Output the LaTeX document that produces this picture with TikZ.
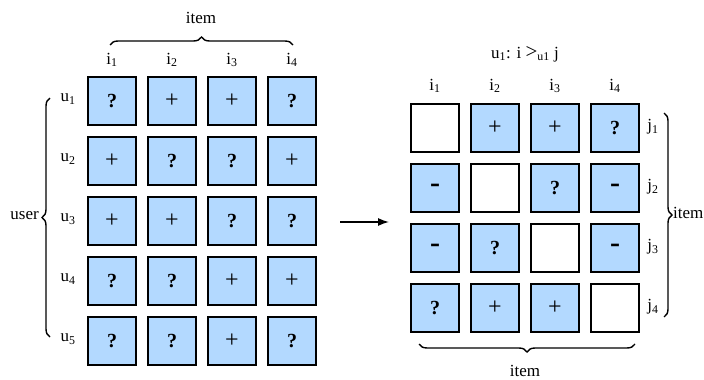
\documentclass[tikz,border=0pt]{standalone}
\usepackage{fontspec}
\setmainfont{Liberation Serif}
\usetikzlibrary{arrows.meta,decorations.pathreplacing}
\definecolor{cellblue}{RGB}{179,217,255}
\newcommand{\qm}{\textbf{?}}
\newcommand{\pl}{{\fontsize{24}{24}\selectfont +}}
\newcommand{\mn}{{\fontsize{30}{30}\selectfont\textbf{-}}}
\begin{document}
\begin{tikzpicture}[x=1pt,y=-1pt,
  cell/.style={draw=black,line width=1.6pt,fill=cellblue,minimum size=48pt,inner sep=0pt,font=\fontsize{20}{22}\selectfont},
  blank/.style={cell,fill=white},
  lbl/.style={inner sep=0pt,font=\fontsize{17}{19}\selectfont},
  bracestyle/.style={draw,line width=1.4pt,decorate,decoration={brace,amplitude=8pt}}]
\useasboundingbox (0,0) rectangle (704,380);
% left grid
\foreach \r/\a/\b/\c/\d in {1/\qm/\pl/\pl/\qm,2/\pl/\qm/\qm/\pl,3/\pl/\pl/\qm/\qm,4/\qm/\qm/\pl/\pl,5/\qm/\qm/\pl/\qm}{
  \foreach \col/\t in {1/\a,2/\b,3/\c,4/\d}{
    \node[cell] (L\r\col) at ({112+60*(\col-1)},{101+60*(\r-1)}) {\t};
  }
}
% left labels
\foreach \col in {1,...,4}{
  \node[lbl] (li\col) at ({112+60*(\col-1)},60) {i\textsubscript{\col}};
}
\foreach \r in {1,...,5}{
  \node[lbl] (lu\r) at (68,{99+60*(\r-1)}) {u\textsubscript{\r}};
}
\node[lbl] (itemtop) at (201,18) {item};
\node[lbl,anchor=east] (user) at (39,216) {user};
\draw[bracestyle] (110,45) -- (293,45);
\draw[bracestyle] (50,337) -- (50,98);
% right grid
\foreach \r/\a/\b/\c/\d in {1/ /\pl/\pl/\qm,2/\mn/ /\qm/\mn,3/\mn/\qm/ /\mn,4/\qm/\pl/\pl/ }{
  \foreach \col/\t in {1/\a,2/\b,3/\c,4/\d}{
    \ifnum\r=\col
      \node[blank] (R\r\col) at ({435+60*(\col-1)},{128+60*(\r-1)}) {};
    \else
      \node[cell] (R\r\col) at ({435+60*(\col-1)},{128+60*(\r-1)}) {\t};
    \fi
  }
}
\foreach \col in {1,...,4}{
  \node[lbl] (ri\col) at ({435+60*(\col-1)},86) {i\textsubscript{\col}};
}
\foreach \r in {1,...,4}{
  \node[lbl] (rj\r) at (653,{127+60*(\r-1)}) {j\textsubscript{\r}};
}
\node[lbl] (title) at (525,54) {u\textsubscript{1}: i {\fontsize{21}{21}\selectfont>}\textsubscript{u1} j};
\node[lbl] (itembot) at (525,371) {item};
\node[lbl,anchor=west] (itemright) at (673,213) {item};
\draw[bracestyle] (664,113) -- (664,317);
\draw[bracestyle] (635,344) -- (419,344);
% arrow
\coordinate (a1) at (340,222);
\coordinate (a2) at (389,222);
\draw[line width=1.4pt,-{Latex[length=11pt,width=8pt]}] (a1) -- (a2);
\end{tikzpicture}
\end{document}
